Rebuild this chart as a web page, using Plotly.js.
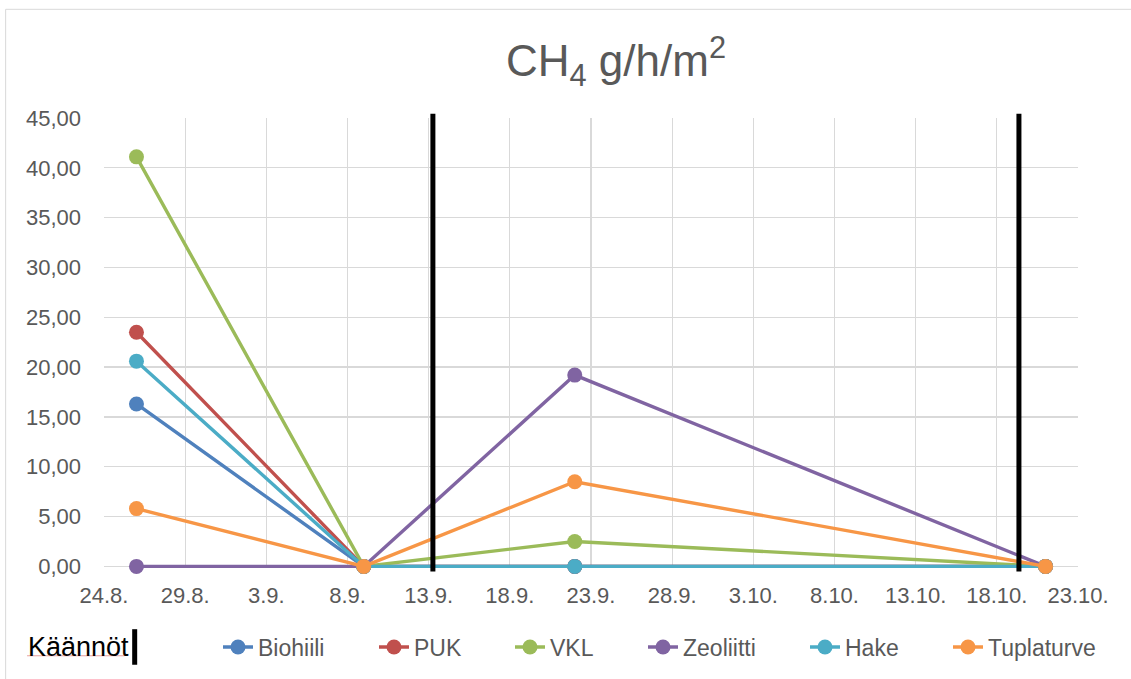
<!DOCTYPE html>
<html>
<head>
<meta charset="utf-8">
<script src="https://cdn.plot.ly/plotly-3.0.1.min.js"></script>
<style>
  html, body { margin: 0; padding: 0; background: #ffffff; }
  #chart { width: 1131px; height: 679px; }
</style>
</head>
<body>
<div id="chart"></div>
<script>
// ---- data ----
const dates = ["2023-08-26", "2023-09-09", "2023-09-22", "2023-10-21"];
const biohiili   = [16.3, 0, 0, 0];
const puk        = [23.5, 0, 0, 0];
const vkl        = [41.1, 0, 2.5, 0];
const zeoliitti  = [0, 0, 19.2, 0];
const hake       = [20.6, 0, 0, 0];
const tuplaturve = [5.8, 0, 8.5, 0];

const seriesNames = ["Biohiili", "PUK", "VKL", "Zeoliitti", "Hake", "Tuplaturve"];
const seriesValues = [biohiili, puk, vkl, zeoliitti, hake, tuplaturve];
const seriesColors = ["#4F81BD", "#C0504D", "#9BBB59", "#8064A2", "#4BACC6", "#F79646"];

const tickDates = ["2023-08-24", "2023-08-29", "2023-09-03", "2023-09-08", "2023-09-13",
                   "2023-09-18", "2023-09-23", "2023-09-28", "2023-10-03", "2023-10-08",
                   "2023-10-13", "2023-10-18", "2023-10-23"];
const tickLabels = ["24.8.", "29.8.", "3.9.", "8.9.", "13.9.", "18.9.", "23.9.", "28.9.",
                    "3.10.", "8.10.", "13.10.", "18.10.", "23.10."];

// turning dates ("Käännöt")
const turnDates = ["2023-09-13 06:15", "2023-10-19 08:40"];
const turnLabel = "Käännöt";

// legend positions (container x of legend box left edge)
const legendXpx = [218, 374, 510, 643, 805, 948];

// ---- build ----
const W = 1131, H = 679;
const fontFam = '"Liberation Sans", Arial, sans-serif';
const grey = "#595959";
const gridC = "#D9D9D9";

const traces = seriesNames.map((n, i) => ({
  type: "scatter",
  mode: "lines+markers",
  name: n,
  x: dates,
  y: seriesValues[i],
  line: { color: seriesColors[i], width: 3.4 },
  marker: { color: seriesColors[i], size: 15 },
  cliponaxis: false,
  legend: i === 0 ? "legend" : "legend" + (i + 1),
  hoverinfo: "skip"
}));

const legends = {};
legendXpx.forEach((px, i) => {
  const key = i === 0 ? "legend" : "legend" + (i + 1);
  legends[key] = {
    xref: "container", x: px / W, xanchor: "left",
    yref: "container", y: 1 - 647 / H, yanchor: "middle",
    orientation: "h",
    font: { family: fontFam, size: 23, color: grey },
    bgcolor: "rgba(0,0,0,0)",
    borderwidth: 0
  };
});

const shapes = turnDates.map(d => ({
  type: "line", xref: "x", yref: "paper",
  x0: d, x1: d, y0: -0.008, y1: 1.0096,
  line: { color: "#000000", width: 5 }
}));
// bar next to "Käännöt" text
shapes.push({
  type: "line", xref: "paper", yref: "paper",
  x0: 0.0315, x1: 0.0315, y0: -0.215, y1: -0.136,
  line: { color: "#000000", width: 5 }
});
// faint spell-check underline under "Käännöt"
shapes.push({
  type: "line", xref: "paper", yref: "paper",
  x0: -0.079, x1: 0.021, y0: -0.195, y1: -0.195,
  line: { color: "#E8A0A0", width: 1 }
});
// chart area border (left + top visible)
shapes.push({
  type: "rect", xref: "paper", yref: "paper",
  x0: -0.101, x1: 1.07, y0: -0.28, y1: 1.2415,
  line: { color: gridC, width: 1 }, layer: "below"
});

const layout = Object.assign({
  width: W, height: H,
  margin: { l: 104, r: 53, t: 118, b: 111, pad: 0 },
  paper_bgcolor: "#ffffff",
  plot_bgcolor: "#ffffff",
  separators: ", ",
  font: { family: fontFam, color: grey },
  title: {
    text: "CH<sub>4</sub> g/h/m<sup>2</sup>",
    font: { family: fontFam, size: 44, color: grey },
    xref: "container", x: 616 / W, xanchor: "center",
    yref: "container", y: 1 - 61 / H, yanchor: "middle"
  },
  xaxis: {
    type: "date",
    range: [tickDates[0], tickDates[tickDates.length - 1]],
    tickmode: "array",
    tickvals: tickDates,
    ticktext: tickLabels,
    showgrid: true, gridcolor: gridC, gridwidth: 1.3,
    showline: false,
    zeroline: false,
    ticks: "",
    ticklabelstandoff: 12,
    tickfont: { family: fontFam, size: 22, color: grey },
    fixedrange: true
  },
  yaxis: {
    range: [-0.16, 45],
    tickmode: "array",
    tickvals: [0, 5, 10, 15, 20, 25, 30, 35, 40, 45],
    tickformat: ".2f",
    showgrid: true, gridcolor: gridC, gridwidth: 1.3,
    showline: false,
    zeroline: true, zerolinecolor: gridC, zerolinewidth: 1.3,
    ticks: "",
    ticklabelstandoff: 22,
    tickfont: { family: fontFam, size: 22, color: grey },
    fixedrange: true
  },
  showlegend: true,
  shapes: shapes,
  annotations: [{
    text: turnLabel,
    xref: "paper", yref: "paper",
    x: -0.0805, xanchor: "left",
    y: -0.1746, yanchor: "middle",
    showarrow: false,
    font: { family: fontFam, size: 27, color: "#000000" }
  }]
}, legends);

Plotly.newPlot("chart", traces, layout, { displayModeBar: false, staticPlot: true });
</script>
</body>
</html>
